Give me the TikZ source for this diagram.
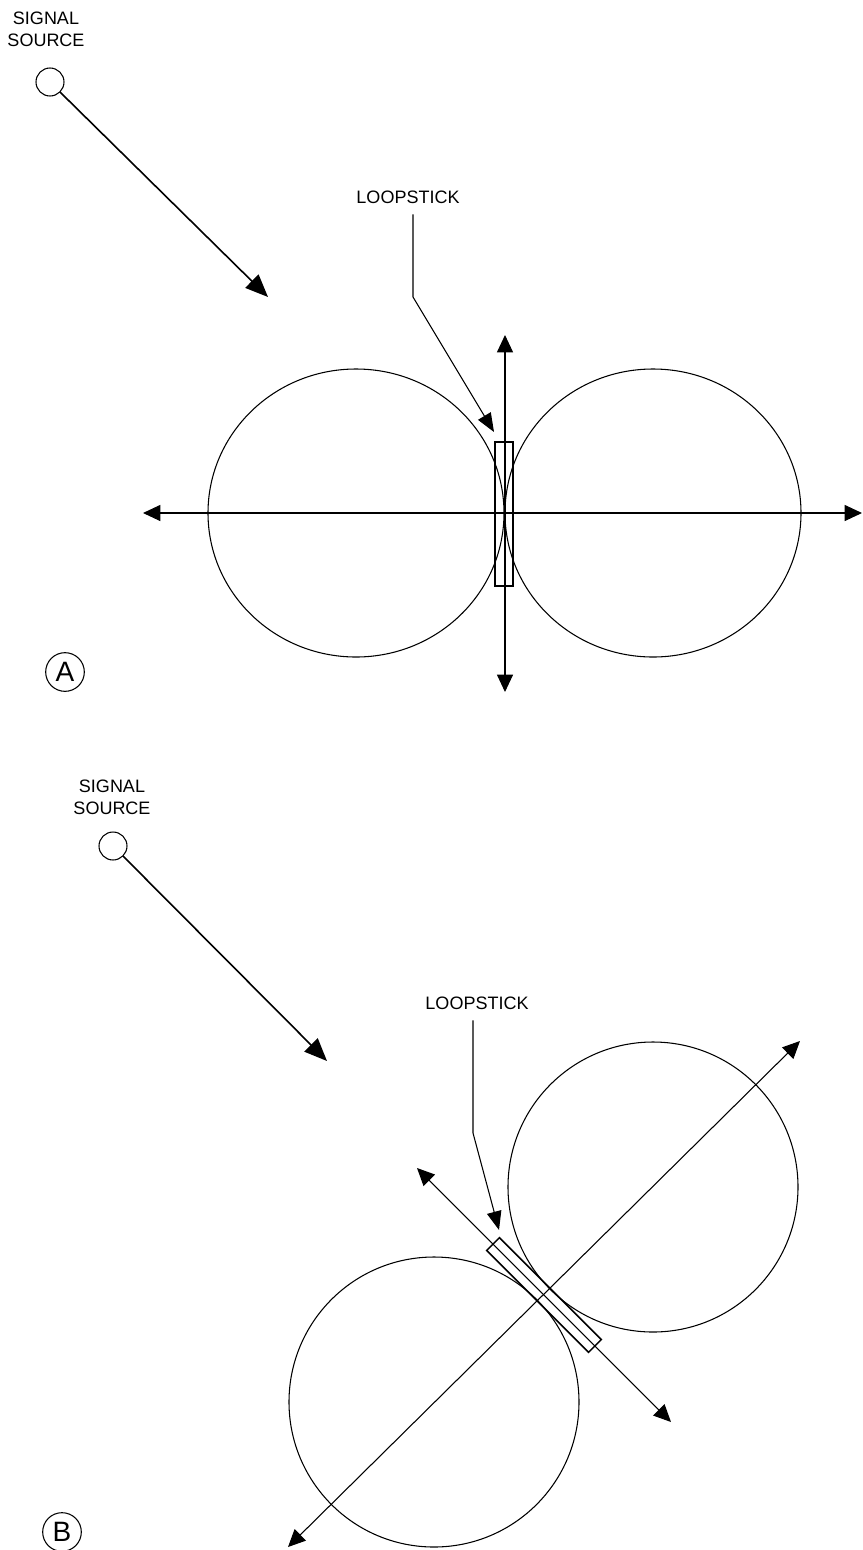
\documentclass[tikz,border=0pt]{standalone}
\usepackage{fontspec}
\setsansfont{Liberation Sans}
\usepackage{tikz}
\usetikzlibrary{arrows.meta,shapes.geometric,positioning,calc}

\tikzset{
    lbl/.style={
        font=\sffamily\fontsize{13.5}{16.5}\selectfont,
        align=center,
        inner sep=2pt
    },
    source/.style={circle, draw, line width=0.8pt, minimum size=21pt, inner sep=0pt, outer sep=0pt},
    lobe/.style={draw, line width=0.8pt, inner sep=0pt, outer sep=0pt},
    stick/.style={rectangle, draw, line width=1.1pt, minimum width=13.5pt, minimum height=108pt, inner sep=0pt},
    tag/.style={circle, draw, line width=0.8pt, minimum size=29pt, inner sep=0pt,
        font=\sffamily\fontsize{21}{21}\selectfont},
    % Arrows
    bigArr/.style={-{Triangle[length=17pt,width=14pt]}, line width=1.2pt},
    leader/.style={-{Triangle[length=14pt,width=11pt]}, line width=0.8pt},
    axis/.style={{Triangle[length=13pt,width=12pt]}-{Triangle[length=13pt,width=12pt]}, line width=0.8pt}
}

\begin{document}
\begin{tikzpicture}[x=0.75pt, y=-0.75pt]
\useasboundingbox (0,0) rectangle (863,1550);

% (A)
\node[lbl] (srcTxtA) at (46,29) {SIGNAL\\SOURCE};
\node[source] (srcA) at (50,82) {};
\coordinate (hitA) at (268,297);
\draw[bigArr] (srcA.south east) -- (hitA);

\node[lobe, ellipse, minimum width=222pt, minimum height=216pt] (lobeAl) at (356,513) {};
\node[lobe, ellipse, minimum width=222pt, minimum height=216pt] (lobeAr) at (653,513) {};
\node[stick] (stickA) at (504,514) {};

\coordinate (axAn) at (505,335);
\coordinate (axAs) at (505,692);
\coordinate (axAw) at (143,513);
\coordinate (axAe) at (862,513);
\draw[axis] (axAn) -- (axAs);
\draw[axis] (axAw) -- (axAe);

\node[lbl] (lblA) at (408,197) {LOOPSTICK};
\coordinate (legA) at (413,297);
\coordinate (tipA) at (494,432);
\draw[leader] ([yshift=-6pt]lblA.south -| legA) -- (legA) -- (tipA);

\node[tag] (tagA) at (65,672) {A};

% (B)
\node[lbl] (srcTxtB) at (112,797) {SIGNAL\\SOURCE};
\node[source] (srcB) at (113,846) {};
\coordinate (hitB) at (327,1061);
\draw[bigArr] (srcB.south east) -- (hitB);

\node[lobe, circle, minimum size=217.5pt] (lobeBr) at (653,1187) {};
\node[lobe, circle, minimum size=217.5pt] (lobeBl) at (434,1402) {};
\node[stick, rotate=45] (stickB) at (544,1295) {};

\coordinate (axBne) at (800,1041);
\coordinate (axBsw) at (288,1547);
\coordinate (axBnw) at (417,1168);
\coordinate (axBse) at (671,1422);
\draw[axis] (axBsw) -- (axBne);
\draw[axis] (axBnw) -- (axBse);

\node[lbl] (lblB) at (477,1003) {LOOPSTICK};
\coordinate (legB) at (473,1133);
\coordinate (tipB) at (499,1230);
\draw[leader] ([yshift=-6pt]lblB.south -| legB) -- (legB) -- (tipB);

\node[tag] (tagB) at (62,1532) {B};
\end{tikzpicture}
\end{document}
